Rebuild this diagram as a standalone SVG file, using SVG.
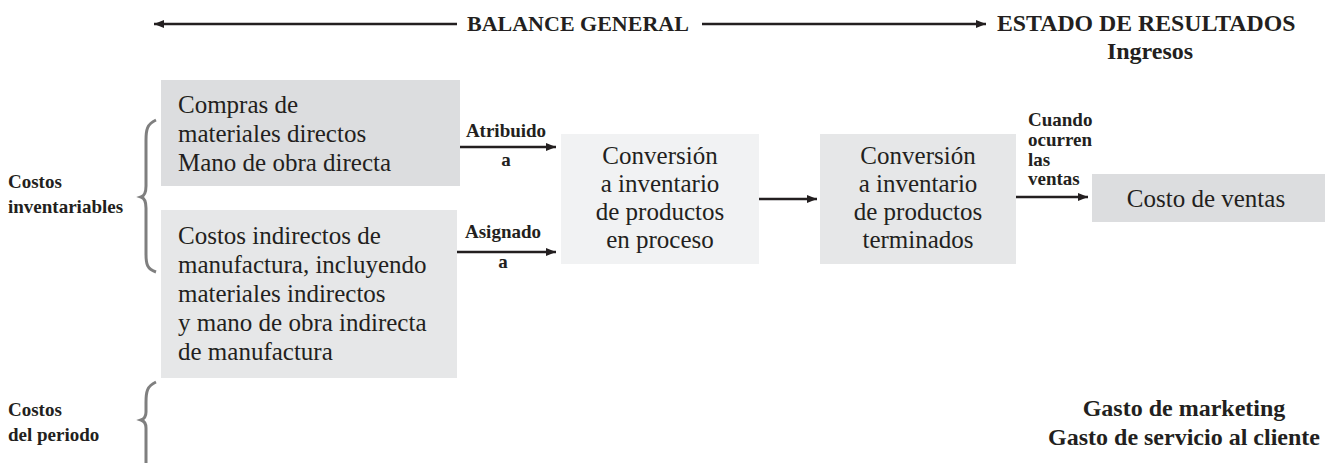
<svg xmlns="http://www.w3.org/2000/svg" width="1333" height="463" viewBox="0 0 1333 463">
<defs>
<marker id="ah" viewBox="0 0 10 10" refX="10" refY="5" markerWidth="12" markerHeight="10" markerUnits="userSpaceOnUse" orient="auto-start-reverse">
<path d="M0,1 L10,5 L0,9 z" fill="#231f20"/>
</marker>
<style>
text{font-family:'Liberation Serif',serif;fill:#231f20}
.n{font-size:25px}
.s{font-size:19px;font-weight:bold}
.b{font-weight:bold}
.m{text-anchor:middle}
.ln{stroke:#231f20;stroke-width:2.5;fill:none}
.br{stroke:#7f7f7f;stroke-width:3;fill:none}
</style>
</defs>
<rect width="1333" height="463" fill="#ffffff"/>

<g id="header">
<line class="ln" x1="457" y1="24" x2="154" y2="24" marker-end="url(#ah)"/>
<text class="b" x="467" y="31" font-size="22">BALANCE GENERAL</text>
<line class="ln" x1="702" y1="24" x2="986" y2="24" marker-end="url(#ah)"/>
<text class="b" x="997" y="31" font-size="23.8">ESTADO DE RESULTADOS</text>
<text class="b m" x="1150" y="59" font-size="24">Ingresos</text>
</g>

<g id="costos-inventariables">
<path class="br" d="M156,120 C147,124 146,130 146,140 L146,186 C146,193 144,196 141,197 C144,198 146,201 146,208 L146,254 C146,264 147,269 156,272"/>
<text class="s" x="8" y="188">Costos</text>
<text class="s" x="8" y="213">inventariables</text>
</g>

<g id="costos-periodo">
<path class="br" d="M156,382 C147,386 146,392 146,402 L146,412 C146,417 144,419 141,420 C144,421 146,423 146,428 L146,463"/>
<text class="s" x="8" y="416">Costos</text>
<text class="s" x="8" y="441">del periodo</text>
</g>

<g id="materiales">
<rect x="161" y="80" width="299" height="106" fill="#dcdddf"/>
<text class="n" x="178" y="113">Compras de</text>
<text class="n" x="178" y="142">materiales directos</text>
<text class="n" x="178" y="171">Mano de obra directa</text>
</g>

<g id="indirectos">
<rect x="161" y="210" width="296" height="168" fill="#e6e7e8"/>
<text class="n" x="178" y="244">Costos indirectos de</text>
<text class="n" x="178" y="273">manufactura, incluyendo</text>
<text class="n" x="178" y="302">materiales indirectos</text>
<text class="n" x="178" y="331">y mano de obra indirecta</text>
<text class="n" x="178" y="360">de manufactura</text>
</g>

<g id="proceso">
<rect x="561" y="134" width="198" height="130" fill="#f1f2f3"/>
<text class="n m" x="660" y="164">Conversión</text>
<text class="n m" x="660" y="192">a inventario</text>
<text class="n m" x="660" y="220">de productos</text>
<text class="n m" x="660" y="248">en proceso</text>
</g>

<g id="terminados">
<rect x="820" y="134" width="196" height="130" fill="#e6e7e8"/>
<text class="n m" x="918" y="164">Conversión</text>
<text class="n m" x="918" y="192">a inventario</text>
<text class="n m" x="918" y="220">de productos</text>
<text class="n m" x="918" y="248">terminados</text>
</g>

<g id="costo-ventas">
<rect x="1092" y="174" width="233" height="48" fill="#dcdddf"/>
<text class="n m" x="1206" y="207">Costo de ventas</text>
</g>

<g id="gastos">
<text class="b m" x="1184" y="416" font-size="24">Gasto de marketing</text>
<text class="b m" x="1184" y="445" font-size="24">Gasto de servicio al cliente</text>
</g>

<g id="connectors">
<line class="ln" x1="460" y1="147" x2="556" y2="147" marker-end="url(#ah)"/>
<text class="s m" x="506" y="137">Atribuido</text>
<text class="s m" x="506" y="166">a</text>
<line class="ln" x1="457" y1="252" x2="556" y2="252" marker-end="url(#ah)"/>
<text class="s m" x="503" y="238">Asignado</text>
<text class="s m" x="503" y="268">a</text>
<line class="ln" x1="759" y1="199" x2="817" y2="199" marker-end="url(#ah)"/>
<line class="ln" x1="1016" y1="197" x2="1088" y2="197" marker-end="url(#ah)"/>
<text class="s" x="1028" y="126">Cuando</text>
<text class="s" x="1028" y="146">ocurren</text>
<text class="s" x="1028" y="166">las</text>
<text class="s" x="1028" y="185">ventas</text>
</g>
</svg>
